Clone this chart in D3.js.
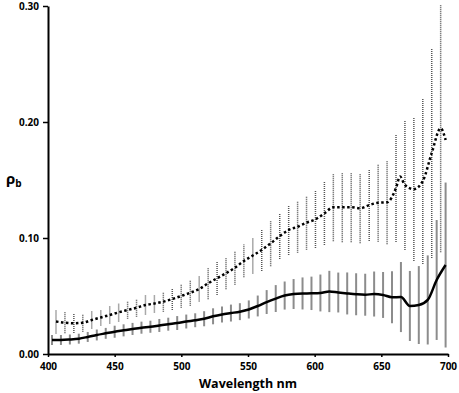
<!DOCTYPE html>
<html>
<head>
<meta charset="utf-8">
<script src="https://cdn.jsdelivr.net/npm/d3@7"></script>
<style>
  body { margin: 0; background: #fff; }
  svg text { font-family: "Open Sans", "Liberation Sans", sans-serif; font-weight: bold; }
</style>
</head>
<body>
<div id="chart"></div>
<script>
// x ticks and y ticks
const xTicks = [400, 450, 500, 550, 600, 650, 700];
const yTicks = [0, 0.10, 0.20, 0.30];

// solid series (wavelengths of the error bars, means, half error)
const solidWl = [403.0, 409.7, 416.4, 423.1, 429.8, 436.6, 443.3, 450.0, 456.7, 463.4,
  470.1, 476.8, 483.5, 490.2, 496.9, 503.7, 510.4, 517.1, 523.8, 530.5,
  537.2, 543.9, 550.6, 557.3, 564.0, 570.8, 577.5, 584.2, 590.9, 597.6,
  604.3, 611.0, 617.7, 624.4, 631.1, 637.9, 644.6, 651.3, 658.0, 664.7,
  671.4, 678.1, 684.8, 691.5, 698.2];
const solidMean = [0.0121, 0.0121, 0.0125, 0.0132, 0.0147, 0.0164, 0.0178, 0.0192, 0.0204, 0.0216,
  0.0227, 0.0235, 0.0246, 0.0257, 0.0267, 0.0280, 0.0291, 0.0304, 0.0325, 0.0341,
  0.0353, 0.0365, 0.0384, 0.0414, 0.0448, 0.0478, 0.0504, 0.0517, 0.0522, 0.0523,
  0.0526, 0.0539, 0.0530, 0.0522, 0.0515, 0.0511, 0.0517, 0.0509, 0.0489, 0.0491,
  0.0414, 0.0422, 0.0466, 0.0638, 0.0767];
const solidErr = [0.0043, 0.0043, 0.0043, 0.0043, 0.0043, 0.0047, 0.0047, 0.0052, 0.0052, 0.0052,
  0.0052, 0.0052, 0.0056, 0.0056, 0.0060, 0.0060, 0.0060, 0.0065, 0.0069, 0.0069,
  0.0073, 0.0073, 0.0078, 0.0090, 0.0103, 0.0116, 0.0121, 0.0129, 0.0138, 0.0144,
  0.0159, 0.0178, 0.0172, 0.0181, 0.0181, 0.0181, 0.0194, 0.0198, 0.0224, 0.0302,
  0.0302, 0.0336, 0.0384, 0.0517, 0.0711];

// dotted series (null error = line point only)
const dottedWl = [406.0, 412.7, 419.4, 426.1, 432.8, 439.6, 446.3, 453.0, 459.7, 466.4,
  473.1, 479.8, 486.5, 493.2, 499.9, 506.7, 513.4, 520.1, 526.8, 533.5,
  540.2, 546.9, 553.6, 560.3, 567.0, 573.8, 580.5, 587.2, 593.9, 600.6,
  607.3, 614.0, 620.7, 627.4, 634.1, 640.9, 647.6, 654.3, 661.0, 664.0,
  667.7, 674.4, 681.1, 687.8, 694.5, 698.2];
const dottedMean = [0.0280, 0.0270, 0.0265, 0.0270, 0.0293, 0.0315, 0.0336, 0.0359, 0.0379, 0.0399,
  0.0422, 0.0435, 0.0451, 0.0474, 0.0500, 0.0528, 0.0560, 0.0609, 0.0653, 0.0696,
  0.0744, 0.0802, 0.0849, 0.0897, 0.0954, 0.1017, 0.1069, 0.1097, 0.1132, 0.1161,
  0.1213, 0.1265, 0.1265, 0.1265, 0.1256, 0.1284, 0.1304, 0.1308, 0.1431, 0.1530,
  0.1457, 0.1422, 0.1491, 0.1733, 0.1946, 0.1845];
const dottedErr = [0.0103, 0.0091, 0.0084, 0.0078, 0.0073, 0.0069, 0.0073, 0.0078, 0.0075, 0.0078,
  0.0082, 0.0078, 0.0086, 0.0095, 0.0101, 0.0112, 0.0108, 0.0138, 0.0144, 0.0138,
  0.0147, 0.0141, 0.0155, 0.0181, 0.0198, 0.0198, 0.0216, 0.0224, 0.0233, 0.0247,
  0.0273, 0.0293, 0.0302, 0.0302, 0.0302, 0.0310, 0.0336, 0.0362, 0.0466, null,
  0.0560, 0.0621, 0.0716, 0.0905, 0.1069, null];

const width = 459;
const height = 393;
const margin = { top: 6, right: 11, bottom: 39, left: 48 };

const svg = d3.select("#chart")
    .append("svg")
    .attr("width", width)
    .attr("height", height);

const x = d3.scaleLinear()
    .domain([400, 700])
    .range([margin.left, width - margin.right]);

const y = d3.scaleLinear()
    .domain([0, 0.30])
    .range([height - margin.bottom, margin.top]);

const solid = solidWl.map((w, i) => ({ w: w, m: solidMean[i], e: solidErr[i] }));
const dotted = dottedWl.map((w, i) => ({ w: w, m: dottedMean[i], e: dottedErr[i] }));

svg.append("clipPath").attr("id", "plot")
    .append("rect")
    .attr("x", margin.left).attr("y", margin.top - 1)
    .attr("width", width - margin.left - margin.right)
    .attr("height", height - margin.top - margin.bottom + 1);

const g = svg.append("g").attr("clip-path", "url(#plot)");

// error bars, dotted series
g.append("g")
    .selectAll("line")
    .data(dotted.filter(d => d.e != null))
    .join("line")
    .attr("x1", d => x(d.w)).attr("x2", d => x(d.w))
    .attr("y1", d => y(d.m - d.e)).attr("y2", d => y(d.m + d.e))
    .attr("stroke", "#555")
    .attr("stroke-width", 1.5)
    .attr("stroke-dasharray", "1,1");

// error bars, solid series
g.append("g")
    .selectAll("line")
    .data(solid)
    .join("line")
    .attr("x1", d => x(d.w)).attr("x2", d => x(d.w))
    .attr("y1", d => y(d.m - d.e)).attr("y2", d => y(d.m + d.e))
    .attr("stroke", "#8c8c8c")
    .attr("stroke-width", 2);

const line = d3.line()
    .x(d => x(d.w))
    .y(d => y(d.m))
    .curve(d3.curveMonotoneX);

g.append("path")
    .datum(dotted)
    .attr("d", line)
    .attr("fill", "none")
    .attr("stroke", "#000")
    .attr("stroke-width", 2.5)
    .attr("stroke-dasharray", "2.5,2.5");

g.append("path")
    .datum(solid)
    .attr("d", line)
    .attr("fill", "none")
    .attr("stroke", "#000")
    .attr("stroke-width", 2.5);

// Left Y-axis
const yAxis = svg.append("g")
    .attr("transform", `translate(${margin.left},0)`)
    .call(d3.axisLeft(y).tickValues(yTicks).tickFormat(d3.format(".2f")).tickSize(5).tickSizeOuter(0).tickPadding(4));

// Bottom X-axis
const xAxis = svg.append("g")
    .attr("transform", `translate(0,${height - margin.bottom})`)
    .call(d3.axisBottom(x).tickValues(xTicks).tickSize(3).tickSizeOuter(0).tickPadding(6));

[yAxis, xAxis].forEach(a => {
    a.select(".domain").attr("stroke", "#000").attr("stroke-width", 2);
    a.selectAll(".tick line").attr("stroke", "#000").attr("stroke-width", 1.5);
    a.selectAll(".tick text").attr("font-size", 10).attr("fill", "#000");
});

// axis titles
svg.append("text")
    .attr("x", (margin.left + width - margin.right) / 2)
    .attr("y", 388)
    .attr("text-anchor", "middle")
    .attr("font-size", 12.5)
    .text("Wavelength nm");

const yt = svg.append("text")
    .attr("x", 6)
    .attr("y", 184)
    .attr("font-size", 15);
yt.append("tspan").text("ρ");
yt.append("tspan").attr("font-size", 10).attr("dy", 3).text("b");
</script>
</body>
</html>
